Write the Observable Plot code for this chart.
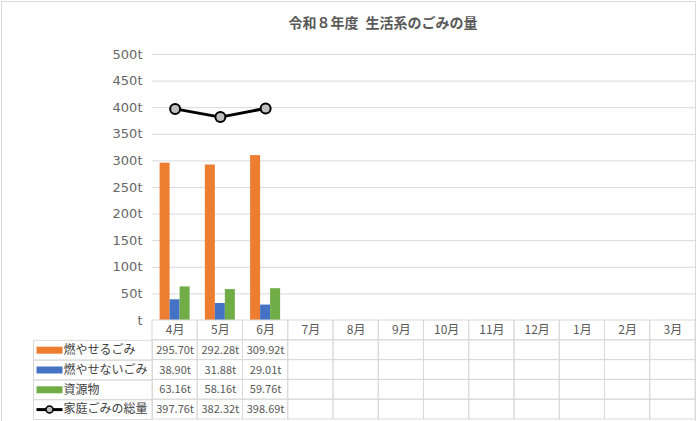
<!DOCTYPE html>
<html><head><meta charset="utf-8">
<script src="https://cdn.jsdelivr.net/npm/d3@7"></script>
<script src="https://cdn.jsdelivr.net/npm/@observablehq/plot@0.6"></script>
<style>
body{margin:0;background:#fff;}
#wrap{position:relative;width:696px;height:421px;overflow:hidden;background:#fff;font-family:"Noto Sans CJK JP",sans-serif;}
#frame{position:absolute;left:1px;top:1px;width:695px;height:430px;box-sizing:border-box;border:1px solid #d9d9d9;}
#title{position:absolute;left:0;width:766px;top:12px;text-align:center;font-size:14px;font-weight:bold;color:#595959;line-height:20px;white-space:pre;}
#chart,#table{position:absolute;left:0;}
#chart{top:0}
#table{top:319px}
</style></head><body>
<div id="wrap"><div id="frame"></div><div id="chart"></div><div id="table"></div><div id="title">令和８年度&#x2002;生活系のごみの量</div></div>
<script>
const months = ["4月","5月","6月","7月","8月","9月","10月","11月","12月","1月","2月","3月"];
const seriesNames = ["燃やせるごみ","燃やせないごみ","資源物","家庭ごみの総量"];
const burnable = [295.70, 292.28, 309.92];
const nonBurnable = [38.90, 31.88, 29.01];
const resources = [63.16, 58.16, 59.76];
const total = [397.76, 382.32, 398.69];
const yTicks = [0, 50, 100, 150, 200, 250, 300, 350, 400, 450, 500];
const colors = ["#ED7D31", "#4472C4", "#70AD47"];

const toRows = vals => vals.map((v, i) => ({month: months[i], value: v}));

const chart = Plot.plot({
  width: 696, height: 340,
  marginTop: 54, marginBottom: 20, marginLeft: 152, marginRight: 1,
  style: {background: "transparent", fontFamily: "DejaVu Sans", color: "#595959", overflow: "visible"},
  x: {type: "band", domain: months, padding: 0, round: false, axis: null},
  y: {domain: [0, 500], axis: null},
  marks: [
    Plot.ruleY(yTicks.filter(d => d > 0), {stroke: "#d9d9d9", strokeWidth: 1}),
    Plot.axisY({ticks: yTicks, tickSize: 0, tickPadding: 10, fontSize: 13, fill: "#666666", label: null,
      tickFormat: d => d === 0 ? "t" : d + "t"}),
    Plot.barY(toRows(burnable), {x: "month", y: "value", fill: colors[0], insetLeft: 7.6, insetRight: 27.65}),
    Plot.barY(toRows(nonBurnable), {x: "month", y: "value", fill: colors[1], insetLeft: 17.6, insetRight: 17.65}),
    Plot.barY(toRows(resources), {x: "month", y: "value", fill: colors[2], insetLeft: 27.6, insetRight: 7.65}),
    Plot.line(toRows(total), {x: "month", y: "value", stroke: "black", strokeWidth: 3}),
    Plot.dot(toRows(total), {x: "month", y: "value", r: 5, fill: "#bfbfbf", stroke: "black", strokeWidth: 2})
  ]
});
document.getElementById("chart").appendChild(chart);

const rows = ["header", ...seriesNames];
const rowH = (102 - 3) / rows.length;
const grid = rows.flatMap(r => months.map(m => ({row: r, month: m})));
const tableVals = [burnable, nonBurnable, resources, total];
const valueCells = seriesNames.flatMap((s, j) => tableVals[j].map((v, i) => ({row: s, month: months[i], text: v.toFixed(2) + "t"})));
const rectSym = (w, h) => ({draw(ctx) { ctx.rect(-w / 2, -h / 2, w, h); }});
const lineSym = w => ({draw(ctx) { ctx.moveTo(-w / 2, 0); ctx.lineTo(w / 2, 0); }});

const table = Plot.plot({
  width: 696, height: 102,
  marginTop: 1, marginBottom: 2, marginLeft: 152, marginRight: 1,
  style: {background: "transparent", fontFamily: "Noto Sans CJK JP", overflow: "visible"},
  x: {type: "band", domain: months, padding: 0, round: false, axis: null},
  y: {type: "band", domain: rows, padding: 0, round: false, axis: null},
  color: {type: "identity"},
  marks: [
    Plot.cell(grid, {x: "month", y: "row", fill: "none", stroke: "#d9d9d9", inset: 0}),
    Plot.dot(seriesNames, {y: d => d, frameAnchor: "left", dx: -59.5, symbol: rectSym(119, rowH), fill: "none", stroke: "#d9d9d9", strokeWidth: 1}),
    Plot.text(months, {x: d => d, y: () => "header", text: d => d, fontSize: 12, fill: "#595959"}),
    Plot.text(valueCells, {x: "month", y: "row", text: "text", fontSize: 11, fill: "#595959"}),
    Plot.dot(seriesNames.slice(0, 3), {y: d => d, frameAnchor: "left", dx: -103, symbol: rectSym(26, 7), fill: (d, i) => colors[i], stroke: null}),
    Plot.dot(seriesNames.slice(3), {y: d => d, frameAnchor: "left", dx: -103, symbol: lineSym(26), fill: "none", stroke: "black", strokeWidth: 3}),
    Plot.dot(seriesNames.slice(3), {y: d => d, frameAnchor: "left", dx: -103, r: 3.5, fill: "#bfbfbf", stroke: "black", strokeWidth: 1.5}),
    Plot.text(seriesNames, {y: d => d, frameAnchor: "left", dx: -89, textAnchor: "start", text: d => d, fontSize: 12, fill: "#404040"})
  ]
});
document.getElementById("table").appendChild(table);
</script>
</body></html>
